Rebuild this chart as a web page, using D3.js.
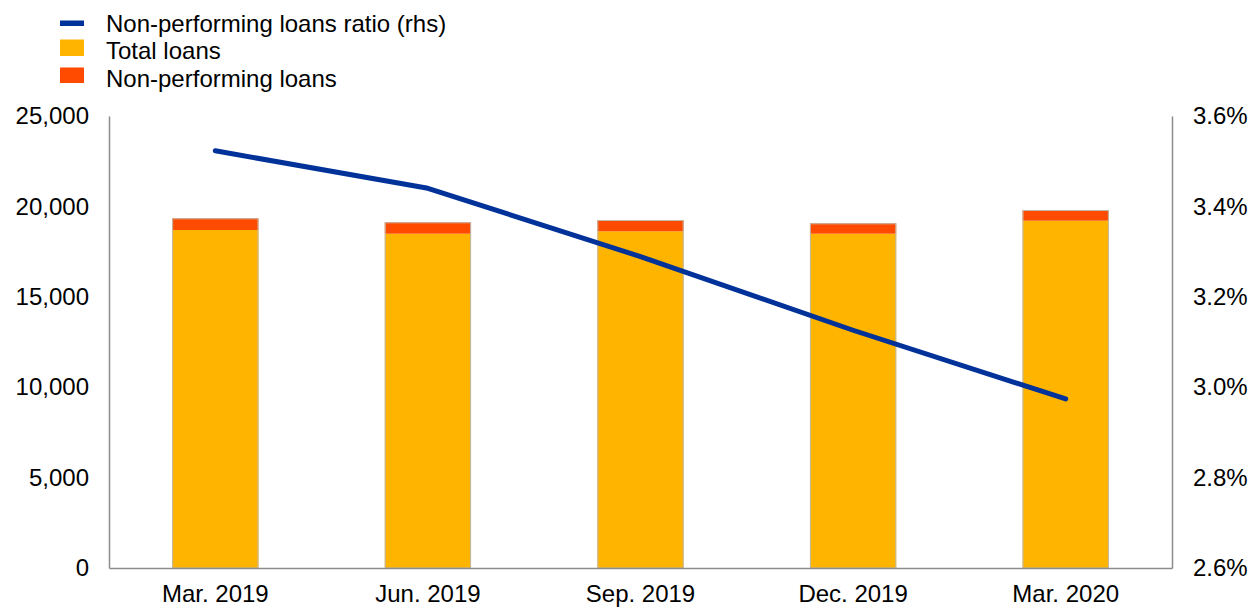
<!DOCTYPE html>
<html>
<head>
<meta charset="utf-8">
<script src="https://cdn.jsdelivr.net/npm/d3@7"></script>
<style>
  html, body { margin: 0; padding: 0; background: #fff; }
  svg { display: block; }
  text { font-family: "Liberation Sans", Arial, sans-serif; fill: #000; }
</style>
</head>
<body>
<svg id="chart" width="1250" height="610"></svg>
<script>
// ---- data ----
const categories = ["Mar. 2019", "Jun. 2019", "Sep. 2019", "Dec. 2019", "Mar. 2020"];
const totalLoans = [18695, 18490, 18623, 18490, 19209];
const nonPerformingLoans = [647, 631, 625, 575, 592];
const nplRatio = [3.523, 3.440, 3.289, 3.126, 2.974];
const leftTicks = [0, 5000, 10000, 15000, 20000, 25000];
const rightTicks = [2.6, 2.8, 3.0, 3.2, 3.4, 3.6];
const legendLabels = ["Non-performing loans ratio (rhs)", "Total loans", "Non-performing loans"];

// ---- layout ----
const colors = { line: "#003299", total: "#FFB400", npl: "#FF4B00", axis: "#8c8c8c" };
const plotLeft = 109, plotRight = 1172, plotTop = 116, plotBottom = 568;

const svg = d3.select("#chart");

const x = d3.scaleBand().domain(categories).range([plotLeft, plotRight]).paddingInner(0.594).paddingOuter(0.297);
const yL = d3.scaleLinear().domain([0, 25000]).range([plotBottom, plotTop]);
const yR = d3.scaleLinear().domain([2.6, 3.6]).range([plotBottom, plotTop]);

// bars
const rows = categories.map((c, i) => ({ cat: c, total: totalLoans[i], npl: nonPerformingLoans[i] }));
const stack = d3.stack().keys(["total", "npl"])(rows);
const fills = { total: colors.total, npl: colors.npl };

svg.append("g").selectAll("g").data(stack).join("g")
  .attr("fill", d => fills[d.key])
  .selectAll("rect").data(d => d).join("rect")
  .attr("x", d => x(d.data.cat))
  .attr("width", x.bandwidth())
  .attr("y", d => yL(d[1]))
  .attr("height", d => yL(d[0]) - yL(d[1]));

// thin outline around whole bar
svg.append("g").selectAll("rect").data(rows).join("rect")
  .attr("x", d => x(d.cat) + 0.5)
  .attr("width", x.bandwidth() - 1)
  .attr("y", d => yL(d.total + d.npl) + 0.5)
  .attr("height", d => yL(0) - yL(d.total + d.npl) - 0.5)
  .attr("fill", "none")
  .attr("stroke", "#c0b8a8")
  .attr("stroke-width", 1);

// axes (lines only, no tick marks)
const axisL = d3.axisLeft(yL).tickValues(leftTicks).tickSize(0).tickPadding(20)
  .tickFormat(d3.format(","));
const gL = svg.append("g").attr("transform", `translate(${plotLeft},0)`).call(axisL);

const axisR = d3.axisRight(yR).tickValues(rightTicks).tickSize(0).tickPadding(21)
  .tickFormat(d => d3.format(".1f")(d) + "%");
const gR = svg.append("g").attr("transform", `translate(${plotRight},0)`).call(axisR);

const axisB = d3.axisBottom(x).tickSize(0).tickPadding(17);
const gB = svg.append("g").attr("transform", `translate(0,${plotBottom})`).call(axisB);

[gL, gR, gB].forEach(g => {
  g.select(".domain").attr("stroke", colors.axis).attr("stroke-width", 1.5);
  g.selectAll("text").style("font-family", '"Liberation Sans", Arial, sans-serif')
    .style("font-size", "24px").attr("fill", "#000");
});
gB.selectAll("text").attr("dy", "0.71em");

// line
const line = d3.line()
  .x((d, i) => x(categories[i]) + x.bandwidth() / 2)
  .y(d => yR(d));
svg.append("path")
  .datum(nplRatio)
  .attr("d", line)
  .attr("fill", "none")
  .attr("stroke", colors.line)
  .attr("stroke-width", 5)
  .attr("stroke-linecap", "round")
  .attr("stroke-linejoin", "round");

// legend
const lg = svg.append("g");
const legendY = [23.5, 51, 79];
lg.append("rect").attr("x", 60).attr("y", 20.5).attr("width", 24).attr("height", 5.5).attr("fill", colors.line);
lg.append("rect").attr("x", 60).attr("y", 39.5).attr("width", 24).attr("height", 16.5).attr("fill", colors.total);
lg.append("rect").attr("x", 60).attr("y", 67.5).attr("width", 24).attr("height", 15.5).attr("fill", colors.npl);
lg.selectAll("text").data(legendLabels).join("text")
  .attr("x", 106)
  .attr("y", (d, i) => legendY[i])
  .attr("dy", "0.35em")
  .style("font-size", "24px")
  .text(d => d);
</script>
</body>
</html>
